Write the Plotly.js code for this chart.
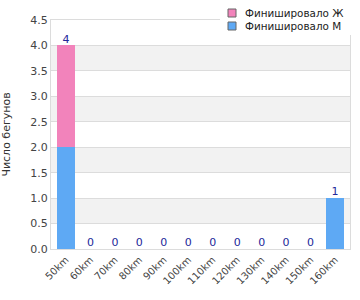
<!DOCTYPE html>
<html><head><meta charset="utf-8">
<script src="https://cdn.plot.ly/plotly-3.0.1.min.js"></script>
<style>html,body{margin:0;padding:0;background:#fff}#chart{width:360px;height:300px}</style>
</head><body><div id="chart"></div>
<script>
const categories = ["50km","60km","70km","80km","90km","100km","110km","120km","130km","140km","150km","160km"];
const finishedM = [2,0,0,0,0,0,0,0,0,0,0,1];
const finishedF = [2,0,0,0,0,0,0,0,0,0,0,0];
const seriesNames = ["Финишировало Ж","Финишировало M"];
const seriesColors = ["#F283BB","#5EA9F4"];
const totals = categories.map((c,i)=>finishedM[i]+finishedF[i]);
const bands = [[0.5,1.0],[1.5,2.0],[2.5,3.0],[3.5,4.0]];

// pixel helpers for legend placement (plot area: left 51, top 20, width 299, height 229)
const W = 299, H = 229, L = 51, T = 20;
const px = x => (x - L) / W;
const py = y => 1 - (y - T) / H;

const traces = [
  {type:'bar', name:seriesNames[1], x:categories, y:finishedM, marker:{color:seriesColors[1]}, hoverinfo:'skip', showlegend:false},
  {type:'bar', name:seriesNames[0], x:categories, y:finishedF, marker:{color:seriesColors[0]}, hoverinfo:'skip', showlegend:false},
  {type:'scatter', mode:'text', x:categories, y:totals, text:totals.map(String), textposition:'top center',
   textfont:{color:'#22289a', size:11, family:'DejaVu Sans'}, showlegend:false, hoverinfo:'skip', cliponaxis:false}
];
const shapes = bands.map(b=>({type:'rect', xref:'paper', yref:'y', x0:0, x1:1, y0:b[0], y1:b[1], fillcolor:'#f2f2f2', line:{width:0}, layer:'below'}));
// legend background
shapes.push({type:'rect', xref:'paper', yref:'paper', x0:px(220), x1:px(358), y0:py(35), y1:py(0), fillcolor:'#fff', line:{width:0}, layer:'above'});
const annotations = [];
const rowY = [13, 26];
seriesNames.forEach((n,i)=>{
  shapes.push({type:'rect', xref:'paper', yref:'paper', x0:px(228), x1:px(236), y0:py(rowY[i]+4), y1:py(rowY[i]-4),
    fillcolor:seriesColors[i], line:{color:'#666', width:1}, layer:'above'});
  annotations.push({xref:'paper', yref:'paper', x:px(243), y:py(rowY[i]), xanchor:'left', yanchor:'middle', text:n,
    showarrow:false, font:{size:10.4, color:'#222', family:'DejaVu Sans'}});
});
const layout = {
  width:360, height:300,
  margin:{l:51, r:10, t:20, b:51},
  barmode:'stack', bargap:0.24,
  font:{family:'DejaVu Sans', size:11, color:'#444'},
  paper_bgcolor:'#fff', plot_bgcolor:'#fff',
  shapes:shapes, annotations:annotations,
  xaxis:{tickangle:-45, showline:true, mirror:true, linecolor:'#dcdcdc', linewidth:1, ticks:'', tickfont:{size:10, color:'#444'}},
  yaxis:{range:[0,4.5], dtick:0.5, tickformat:'.1f', showline:true, mirror:true, linecolor:'#dcdcdc', gridcolor:'#dcdcdc', zeroline:false, ticks:'',
         tickfont:{size:11, color:'#444'}, title:{text:'Число бегунов', font:{size:11, color:'#333'}, standoff:18}},
  showlegend:false
};
Plotly.newPlot('chart', traces, layout, {displayModeBar:false, staticPlot:true});
</script></body></html>
